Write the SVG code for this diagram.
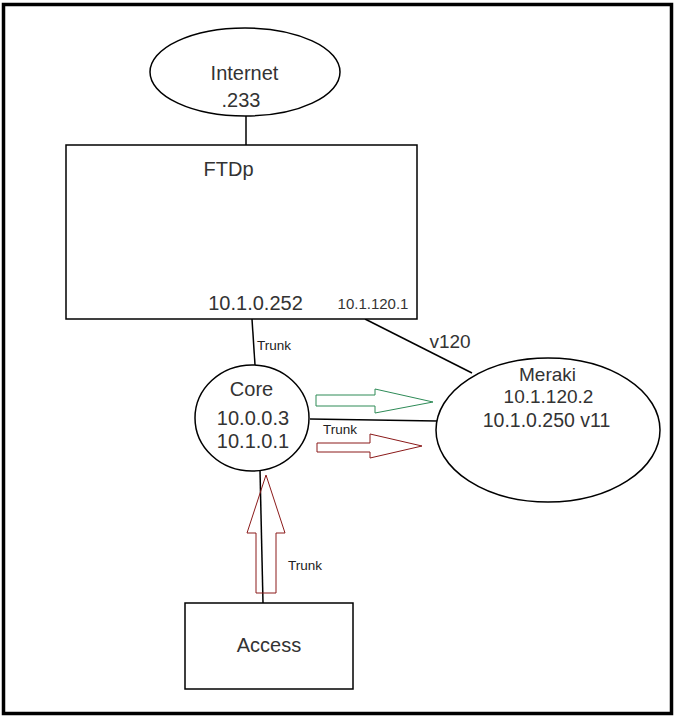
<svg xmlns="http://www.w3.org/2000/svg" width="677" height="717" viewBox="0 0 677 717">
<style>
.shape{fill:#fff;stroke:#000;stroke-width:1.5}
.line{stroke:#000;stroke-width:1.5;fill:none}
.t{font-family:"Liberation Sans",Arial,sans-serif;fill:#333;text-anchor:middle}
.lbl{font-family:"Liberation Sans",Arial,sans-serif;fill:#222;font-size:13.5px}
.green{fill:none;stroke:#2e8b57;stroke-width:1}
.red{fill:none;stroke:#8b1a1a;stroke-width:1}
</style>
<rect x="0" y="0" width="677" height="717" fill="#fff"/>
<rect x="3.5" y="4.5" width="668" height="709" fill="none" stroke="#000" stroke-width="3.5"/>
<g id="connectors">
<line class="line" x1="246" y1="116" x2="246" y2="145"/>
<line class="line" x1="252" y1="319" x2="255" y2="365"/>
<line class="line" x1="365" y1="319" x2="472" y2="373"/>
<line class="line" x1="310" y1="419" x2="437" y2="421"/>
<line class="line" x1="260" y1="470" x2="263" y2="603"/>
<text class="lbl" x="257" y="350">Trunk</text>
<text class="t" x="450" y="348" font-size="19">v120</text>
<text class="lbl" x="323" y="434">Trunk</text>
<text class="lbl" x="288" y="570">Trunk</text>
</g>
<g id="arrow-green"><polygon class="green" points="316,395 375,395 375,389 433,402 375,413 375,406 316,406"/></g>
<g id="arrow-red-right"><polygon class="red" points="317,443 370,443 370,434 422,446 370,458 370,452 317,452"/></g>
<g id="arrow-red-up"><polygon class="red" points="256,593 256,533 247,533 266,475 285,533 276,533 276,593"/></g>
<g id="internet">
<ellipse class="shape" cx="245" cy="72" rx="95" ry="44"/>
<text class="t" x="244.5" y="80" font-size="20">Internet</text>
<text class="t" x="241" y="107" font-size="20">.233</text>
</g>
<g id="ftdp">
<rect class="shape" x="66" y="145" width="351" height="174"/>
<text class="t" x="228.5" y="176" font-size="20">FTDp</text>
<text class="t" x="255.5" y="310" font-size="20">10.1.0.252</text>
<text class="t" x="373" y="309" font-size="15">10.1.120.1</text>
</g>
<g id="core">
<ellipse class="shape" cx="252" cy="418" rx="57" ry="53"/>
<text class="t" x="251.5" y="396" font-size="20">Core</text>
<text class="t" x="253" y="425" font-size="20">10.0.0.3</text>
<text class="t" x="253" y="448" font-size="20">10.1.0.1</text>
</g>
<g id="meraki">
<ellipse class="shape" cx="548" cy="430" rx="112" ry="72"/>
<text class="t" x="547.5" y="381" font-size="19">Meraki</text>
<text class="t" x="548.5" y="403" font-size="19">10.1.120.2</text>
<text class="t" x="546.5" y="427" font-size="19.5">10.1.0.250 v11</text>
</g>
<g id="access">
<rect class="shape" x="185" y="603" width="168" height="86"/>
<text class="t" x="269" y="652" font-size="20">Access</text>
</g>
</svg>
